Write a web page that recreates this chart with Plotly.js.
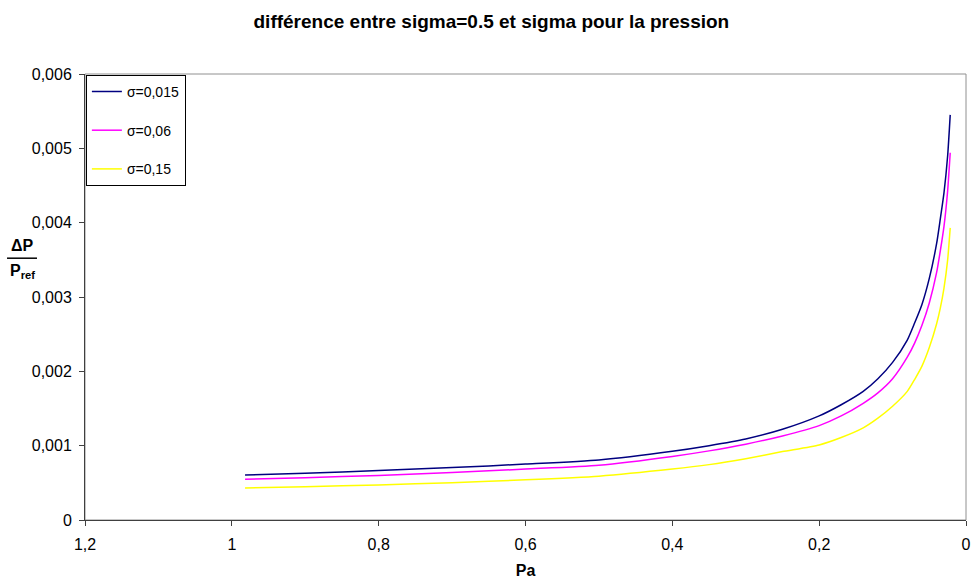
<!DOCTYPE html>
<html>
<head>
<meta charset="utf-8">
<script src="https://cdn.plot.ly/plotly-3.0.1.min.js"></script>
<style>html,body{margin:0;padding:0;background:#fff;}#chart{width:973px;height:581px;}</style>
</head>
<body>
<div id="chart"></div>
<script>
// Pa values (x)
const pa = [0.982, 0.9, 0.8, 0.7, 0.6, 0.5, 0.4, 0.35, 0.3, 0.25, 0.2, 0.17, 0.14, 0.12, 0.10, 0.08, 0.07, 0.06, 0.05, 0.04, 0.035, 0.03, 0.025, 0.0215];
// ΔP / Pref for each sigma
const sigma015 = [0.000606, 0.000630, 0.000665, 0.000705, 0.000752, 0.000808, 0.000925, 0.00100, 0.00109, 0.00122, 0.00140, 0.00155, 0.00173, 0.00190, 0.00212, 0.00242, 0.00265, 0.00290, 0.00325, 0.00372, 0.00405, 0.00440, 0.00490, 0.00545];
const sigma06  = [0.000548, 0.000568, 0.000600, 0.000638, 0.000685, 0.000737, 0.000855, 0.00093, 0.00102, 0.00113, 0.00127, 0.00140, 0.00157, 0.00171, 0.00190, 0.00219, 0.00238, 0.00262, 0.00292, 0.00333, 0.00362, 0.00395, 0.00443, 0.00494];
const sigma15  = [0.000430, 0.000448, 0.000472, 0.000502, 0.000540, 0.000590, 0.000685, 0.000745, 0.000825, 0.000920, 0.00101, 0.00111, 0.00124, 0.00137, 0.00153, 0.00173, 0.00189, 0.00207, 0.00232, 0.00264, 0.00285, 0.00312, 0.00350, 0.00393];
const seriesNames = ['σ=0,015', 'σ=0,06', 'σ=0,15'];
const xTicks = [1.2, 1, 0.8, 0.6, 0.4, 0.2, 0];
const xTickText = ['1,2', '1', '0,8', '0,6', '0,4', '0,2', '0'];
const yTicks = [0, 0.001, 0.002, 0.003, 0.004, 0.005, 0.006];
const yTickText = ['0', '0,001', '0,002', '0,003', '0,004', '0,005', '0,006'];

const colors = ['#000080', '#FF00FF', '#FFFF00'];
const ys = [sigma015, sigma06, sigma15];
const traces = ys.map((y, i) => ({
  x: pa, y: y, type: 'scatter', mode: 'lines', name: seriesNames[i],
  line: {color: colors[i], width: 1.5, shape: 'spline', smoothing: 0.6},
  legendgroup: 'g' + i, showlegend: true
}));

const fam = 'Liberation Sans, Arial, sans-serif';
const font = {family: fam, color: '#000', size: 16};
const layout = {
  width: 973, height: 581,
  margin: {l: 85, r: 7, t: 74, b: 61},
  paper_bgcolor: '#fff', plot_bgcolor: '#fff',
  font: font,
  title: {text: '<b>différence entre sigma=0.5 et sigma pour la pression</b>', x: 0.505, xanchor: 'center', y: 0.963, yanchor: 'middle', font: {family: fam, size: 19, color: '#000'}},
  showlegend: true,
  legend: {x: 0.001, y: 0.998, xanchor: 'left', yanchor: 'top', bgcolor: '#fff', bordercolor: '#000', borderwidth: 1, font: {family: fam, size: 14, color: '#000'}, tracegroupgap: 17.5, traceorder: 'grouped'},
  xaxis: {
    range: [1.2, 0], autorange: false, tickmode: 'array', tickvals: xTicks, ticktext: xTickText,
    ticks: 'outside', ticklen: 5, tickcolor: '#404040', tickwidth: 1, ticklabelstandoff: 5,
    showline: true, linecolor: '#404040', linewidth: 1, showgrid: false, zeroline: false,
    tickfont: font,
    title: {text: '<b>Pa</b>', font: {family: fam, size: 16, color: '#000'}, standoff: 12}
  },
  yaxis: {
    range: [0, 0.006], autorange: false, tickmode: 'array', tickvals: yTicks, ticktext: yTickText,
    ticks: 'outside', ticklen: 5, tickcolor: '#404040', tickwidth: 1, ticklabelstandoff: 4,
    showline: true, linecolor: '#404040', linewidth: 1, showgrid: false, zeroline: false,
    tickfont: font
  },
  shapes: [
    {type: 'rect', xref: 'paper', yref: 'paper', x0: 0, x1: 1, y0: 0, y1: 1, line: {color: '#909090', width: 1}, layer: 'below'},
    {type: 'line', xref: 'paper', yref: 'paper', x0: -0.0885, x1: -0.0545, y0: 0.587, y1: 0.587, line: {color: '#000', width: 1.5}}
  ],
  annotations: [
    {xref: 'paper', yref: 'paper', x: -0.0715, y: 0.591, xanchor: 'center', yanchor: 'bottom', showarrow: false, text: '<b>ΔP</b>', font: {family: fam, size: 16, color: '#000'}},
    {xref: 'paper', yref: 'paper', x: -0.0715, y: 0.583, xanchor: 'center', yanchor: 'top', showarrow: false, text: '<b>P<sub>ref</sub></b>', font: {family: fam, size: 16, color: '#000'}}
  ]
};
Plotly.newPlot('chart', traces, layout, {displayModeBar: false, staticPlot: true});
</script>
</body>
</html>
